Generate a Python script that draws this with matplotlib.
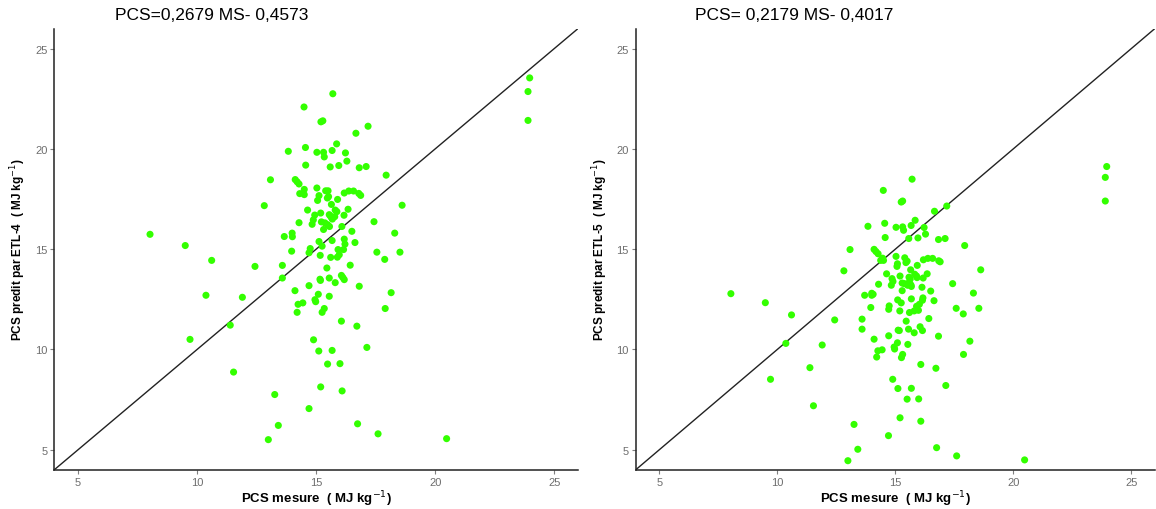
import matplotlib
matplotlib.use('agg')
import matplotlib.pyplot as plt  # noqa: E402

plt.rcParams['font.family'] = ['Liberation Sans', 'DejaVu Sans']

# measured PCS vs PCS predicted by ETL-4 (left panel)
x_etl4 = [23.97, 23.9, 23.9, 15.7, 14.49, 15.2, 15.28, 17.18, 16.67, 15.86,
          14.55, 13.83, 15.03, 15.31, 15.34, 15.67, 16.23, 16.29, 14.56, 15.59,
          15.95, 16.81, 17.1, 17.94, 13.08, 14.12, 14.2, 14.28, 14.5, 15.03,
          15.4, 15.5, 14.31, 14.5, 16.18, 16.37, 16.57, 16.79, 16.87, 15.12,
          15.06, 15.47, 15.52, 15.9, 12.82, 18.61, 15.64, 14.64, 15.8, 15.87,
          16.34, 15.19, 14.94, 15.55, 15.6, 15.65, 15.78, 15.68, 16.17, 14.88,
          14.83, 14.28, 15.22, 15.37, 15.48, 15.56, 16.08, 17.43, 15.31, 16.5,
          13.66, 13.99, 14.0, 8.02, 18.3, 15.67, 16.18, 15.12, 16.63, 16.21,
          15.25, 9.5, 14.75, 14.7, 13.97, 15.92, 16.15, 17.55, 18.52, 15.97,
          15.89, 15.17, 15.61, 17.88, 10.61, 12.43, 13.58, 16.43, 15.45, 13.58,
          16.06, 16.12, 16.18, 15.55, 15.16, 15.18, 15.8, 14.7, 16.81, 14.11,
          10.37, 15.09, 18.15, 15.55, 11.9, 14.95, 14.98, 14.44, 14.24, 15.34,
          15.25, 14.2, 17.9, 11.39, 16.06, 16.71, 9.7, 14.89, 17.13, 15.67,
          15.11, 15.48, 16.0, 11.53, 15.19, 16.09, 13.26, 14.7, 13.41, 16.74,
          17.6, 12.99, 20.48]
y_etl4 = [23.54, 22.86, 21.42, 22.75, 22.09, 21.35, 21.4, 21.13, 20.78, 20.25,
          20.07, 19.88, 19.83, 19.83, 19.6, 19.92, 19.8, 19.39, 19.19, 19.1,
          19.17, 19.06, 19.12, 18.69, 18.46, 18.47, 18.36, 18.25, 17.98, 18.05,
          17.91, 17.91, 17.77, 17.72, 17.8, 17.9, 17.9, 17.78, 17.68, 17.67,
          17.43, 17.55, 17.62, 17.48, 17.17, 17.19, 17.23, 16.95, 16.95, 16.87,
          16.99, 16.8, 16.7, 16.72, 16.65, 16.56, 16.62, 16.5, 16.69, 16.46,
          16.24, 16.32, 16.36, 16.31, 16.22, 16.13, 16.13, 16.37, 15.98, 15.89,
          15.63, 15.8, 15.62, 15.74, 15.8, 15.43, 15.5, 15.38, 15.33, 15.25,
          15.15, 15.18, 15.03, 14.82, 14.9, 14.98, 14.98, 14.85, 14.85, 14.72,
          14.6, 14.69, 14.59, 14.49, 14.44, 14.14, 14.19, 14.2, 14.06, 13.56,
          13.69, 13.59, 13.48, 13.56, 13.5, 13.44, 13.33, 13.18, 13.15, 12.93,
          12.7, 12.75, 12.83, 12.65, 12.6, 12.48, 12.38, 12.32, 12.25, 12.04,
          11.85, 11.85, 12.04, 11.21, 11.41, 11.16, 10.5, 10.48, 10.1, 9.95,
          9.92, 9.27, 9.29, 8.87, 8.13, 7.93, 7.75, 7.05, 6.21, 6.29,
          5.79, 5.5, 5.55]

# measured PCS vs PCS predicted by ETL-5 (right panel)
x_etl5 = [23.96, 23.9, 23.9, 15.71, 14.49, 15.25, 15.31, 17.18, 16.66, 15.84,
          14.55, 13.84, 15.03, 15.31, 15.35, 15.67, 16.22, 16.28, 14.57, 15.57,
          15.96, 16.83, 17.11, 17.94, 13.08, 14.1, 14.18, 14.27, 14.46, 14.5,
          14.38, 15.03, 15.4, 16.19, 16.38, 16.58, 16.84, 16.9, 15.09, 15.07,
          15.45, 15.5, 18.62, 15.65, 15.93, 12.82, 14.63, 16.35, 15.2, 15.82,
          15.9, 15.92, 15.58, 15.63, 15.59, 15.66, 15.5, 15.68, 16.18, 14.86,
          14.9, 14.83, 14.29, 17.43, 15.29, 15.38, 15.52, 16.13, 15.29, 16.5,
          8.03, 14.0, 14.06, 14.0, 13.7, 18.31, 15.1, 15.25, 15.68, 16.17,
          16.15, 16.64, 9.49, 16.02, 15.9, 15.98, 15.8, 13.96, 14.74, 14.72,
          15.19, 17.58, 18.54, 15.6, 10.6, 17.88, 13.59, 12.43, 16.42, 15.46,
          13.59, 15.12, 15.17, 15.56, 16.05, 16.15, 15.8, 14.72, 16.83, 14.1,
          18.16, 10.36, 15.09, 15.53, 11.9, 14.95, 14.97, 14.44, 14.26, 15.31,
          15.26, 17.89, 14.21, 16.08, 11.38, 16.72, 9.71, 14.89, 15.68, 15.11,
          17.14, 15.5, 15.99, 11.53, 15.2, 16.08, 13.25, 14.71, 16.75, 13.41,
          17.6, 12.99, 20.48]
y_etl5 = [19.12, 18.58, 17.4, 18.49, 17.93, 17.35, 17.4, 17.15, 16.89, 16.44,
          16.29, 16.14, 16.09, 16.11, 15.94, 16.18, 16.08, 15.75, 15.58, 15.53,
          15.56, 15.48, 15.53, 15.18, 14.98, 14.99, 14.88, 14.77, 14.55, 14.44,
          14.44, 14.64, 14.57, 14.47, 14.54, 14.54, 14.42, 14.37, 14.27, 14.14,
          14.33, 14.4, 13.97, 13.97, 14.19, 13.92, 13.77, 13.77, 13.66, 13.75,
          13.66, 13.58, 13.6, 13.5, 13.33, 13.22, 13.27, 13.14, 13.56, 13.53,
          13.39, 13.2, 13.25, 13.28, 13.31, 13.28, 13.2, 13.1, 12.93, 12.91,
          12.78, 12.8, 12.75, 12.7, 12.7, 12.81, 12.47, 12.32, 12.52, 12.57,
          12.45, 12.43, 12.33, 12.25, 12.15, 11.95, 11.92, 12.09, 12.17, 12.0,
          11.92, 12.05, 12.05, 11.84, 11.72, 11.77, 11.51, 11.47, 11.54, 11.41,
          11.01, 10.96, 10.94, 11.01, 11.13, 10.94, 10.83, 10.68, 10.66, 10.51,
          10.41, 10.3, 10.33, 10.25, 10.22, 10.12, 10.02, 9.98, 9.93, 9.75,
          9.59, 9.75, 9.62, 9.25, 9.09, 9.06, 8.51, 8.51, 8.06, 8.05,
          8.2, 7.52, 7.53, 7.19, 6.59, 6.42, 6.26, 5.7, 5.1, 5.02,
          4.69, 4.45, 4.49]

titles = ['PCS=0,2679 MS- 0,4573', 'PCS= 0,2179 MS- 0,4017']
ylabels = ['PCS predit par ETL-4  ( MJ kg$^{-1}$)',
           'PCS predit par ETL-5  ( MJ kg$^{-1}$)']
xlabel = 'PCS mesure  ( MJ kg$^{-1}$)'
ticks = [5, 10, 15, 20, 25]

fig = plt.figure(figsize=(11.56, 5.10), dpi=100)
ax1 = fig.add_axes([0.047, 0.077, 0.453, 0.865])
ax2 = fig.add_axes([0.550, 0.077, 0.449, 0.865])

panels = [(ax1, x_etl4, y_etl4), (ax2, x_etl5, y_etl5)]
for i, (ax, xs, ys) in enumerate(panels):
    ax.scatter(xs, ys, s=26, color='#33ff00', edgecolors='none', zorder=3)
    ax.axline((4, 4), slope=1, color='#222222', lw=1.0, zorder=2)
    ax.set_xlim(4, 26)
    ax.set_ylim(4, 26)
    ax.set_xticks(ticks)
    ax.set_yticks(ticks)
    ax.tick_params(colors='#7f7f7f', labelsize=8, length=3, width=0.8,
                   labelcolor='#6e6e6e', pad=2)
    for side in ['top', 'right']:
        ax.spines[side].set_visible(False)
    for side in ['left', 'bottom']:
        ax.spines[side].set_color('#222222')
        ax.spines[side].set_linewidth(1.1)
    ax.set_xlabel(xlabel, fontsize=9.5, fontweight='bold', labelpad=1)
    ax.set_ylabel(ylabels[i], fontsize=8.5, fontweight='bold', labelpad=5)
    ax.set_title(titles[i], fontsize=12.5, loc='left', x=0.115, y=1.0, pad=7)

fig.savefig('out.png', dpi=100)
